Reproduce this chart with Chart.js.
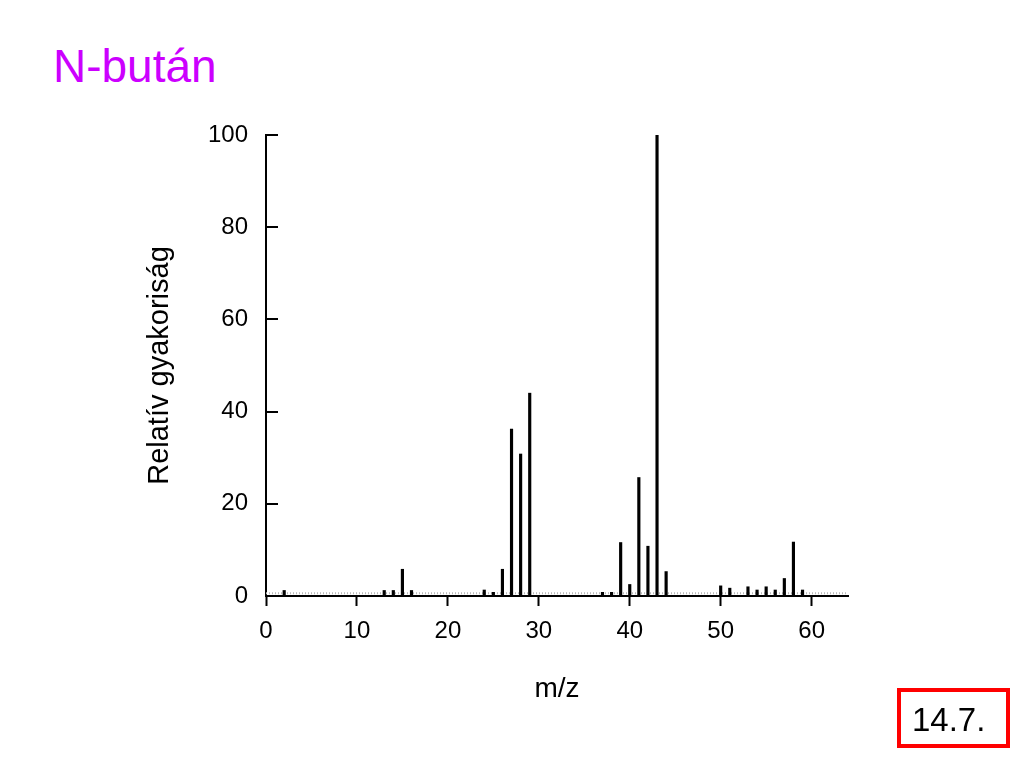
<!DOCTYPE html>
<html>
<head>
<meta charset="utf-8">
<script src="https://cdn.jsdelivr.net/npm/chart.js@4/dist/chart.umd.min.js"></script>
<style>
  html, body { margin: 0; padding: 0; background: #fff; }
  body { width: 1024px; height: 768px; position: relative; overflow: hidden; font-family: "Liberation Sans", Arial, sans-serif; }
  #c { position: absolute; left: 0; top: 0; }
  #title { position: absolute; left: 53px; top: 43px; font-size: 46px; line-height: 46px; color: #cc00ff; white-space: nowrap; }
  #num { position: absolute; left: 897px; top: 688px; width: 113px; height: 60px; box-sizing: border-box;
         border: 4px solid #ff0000; font-size: 33px; line-height: 33px; padding: 11px 0 0 11px; color: #000; }
</style>
</head>
<body>
<div id="title">N-bután</div>
<canvas id="c" width="1024" height="768"></canvas>
<div id="num">14.7.</div>
<script>
// m/z values of the peaks
const mzValues = [2, 13, 14, 15, 16, 24, 25, 26, 27, 28, 29, 37, 38, 39, 40, 41, 42, 43, 44, 50, 51, 53, 54, 55, 56, 57, 58, 59];
// relative abundance (%)
const abundance = [1.2, 1.2, 1.2, 5.8, 1.2, 1.3, 0.8, 5.8, 36.2, 30.8, 44, 0.8, 0.8, 11.6, 2.5, 25.7, 10.8, 100, 5.3, 2.2, 1.7, 2.0, 1.3, 2.0, 1.3, 3.8, 11.7, 1.3];
// axis ranges / ticks
const xTicks = [0, 10, 20, 30, 40, 50, 60];
const yTicks = [0, 20, 40, 60, 80, 100];
const xRange = [0, 64];
const yRange = [0, 100];
// faint dotted baseline seen just above the axis
const baselineX = [0, 64];
const baselineY = [0.6, 0.6];

const peaks = mzValues.map((m, i) => ({ x: m, y: abundance[i] }));
const baseline = baselineX.map((x, i) => ({ x: x, y: baselineY[i] }));

const innerYTicks = {
  id: 'innerYTicks',
  afterDraw(chart) {
    const y = chart.scales.y, ctx = chart.ctx, left = chart.chartArea.left;
    ctx.save();
    ctx.strokeStyle = '#000';
    ctx.lineWidth = 2;
    yTicks.forEach(v => {
      const py = Math.round(y.getPixelForValue(v));
      ctx.beginPath();
      ctx.moveTo(left, py);
      ctx.lineTo(left + 12, py);
      ctx.stroke();
    });
    ctx.restore();
  }
};

const tickFont = { family: '"Liberation Sans Narrow", "Liberation Sans", Arial, sans-serif', size: 24 };

new Chart(document.getElementById('c'), {
  type: 'bar',
  data: {
    datasets: [
      {
        type: 'line',
        data: baseline,
        borderColor: '#b8b8b8',
        borderWidth: 2,
        borderDash: [1, 2],
        pointRadius: 0,
        fill: false,
        order: 2
      },
      {
        type: 'bar',
        data: peaks,
        backgroundColor: '#000',
        borderWidth: 0,
        barThickness: 2.5,
        order: 1
      }
    ]
  },
  options: {
    responsive: false,
    animation: false,
    layout: { padding: { left: 0, right: 176, top: 135, bottom: 0 } },
    plugins: { legend: { display: false }, tooltip: { enabled: false } },
    scales: {
      x: {
        type: 'linear',
        min: xRange[0], max: xRange[1],
        offset: false,
        afterFit(s) { s.height = 172; },
        afterBuildTicks(s) { s.ticks = xTicks.map(v => ({ value: v })); },
        ticks: { stepSize: 10, includeBounds: false, color: '#000', padding: 11, font: tickFont },
        grid: { display: true, offset: false, drawOnChartArea: false, drawTicks: true, tickLength: 10, tickWidth: 2, tickColor: '#000' },
        border: { display: true, color: '#000', width: 2 },
        title: { display: true, text: 'm/z', color: '#000', padding: { top: 0, bottom: 62 },
                 font: { family: 'Liberation Sans', size: 28 } }
      },
      y: {
        min: yRange[0], max: yRange[1],
        afterFit(s) { s.width = 266; },
        afterBuildTicks(s) { s.ticks = yTicks.map(v => ({ value: v })); },
        ticks: { stepSize: 20, color: '#000', padding: 18, font: tickFont },
        grid: { display: true, offset: false, drawOnChartArea: false, drawTicks: false },
        border: { display: true, color: '#000', width: 2 },
        title: { display: true, text: 'Relatív gyakoriság', color: '#000', padding: { top: 143, bottom: 0 },
                 font: { family: 'Liberation Sans', size: 29 } }
      }
    }
  },
  plugins: [innerYTicks]
});
</script>
</body>
</html>
